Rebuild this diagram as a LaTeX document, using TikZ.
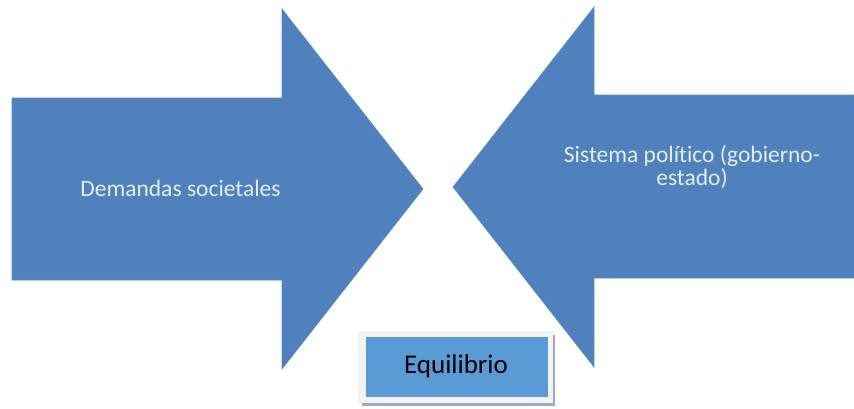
\documentclass[tikz,border=0pt]{standalone}
\usepackage{fontspec}
\setmainfont[Ligatures=NoCommon]{Carlito}
\definecolor{arrowblue}{HTML}{4F81BD}
\definecolor{arrowedge}{HTML}{5B8CC8}
\definecolor{boxblue}{HTML}{5B9BD5}
\definecolor{framegrey}{HTML}{F2F2F2}
\definecolor{shadowgrey}{HTML}{9AAAC0}
\definecolor{lighttext}{HTML}{E6ECF4}
\tikzset{
  bigarrow/.style={fill=arrowblue, draw=arrowedge, line width=0.6pt},
  arrowtext/.style={text=lighttext, font=\fontsize{23.5}{20.5}\selectfont, align=center, inner sep=0pt},
  eqtext/.style={text=black, font=\fontsize{27}{30}\selectfont, inner sep=0pt}
}
\begin{document}
\begin{tikzpicture}[x=1pt,y=-1pt]
\useasboundingbox (0,0) rectangle (854,408);
% left arrow
\draw[bigarrow] (12,98) -- (282,98) -- (282,9) -- (423,189) -- (282,369) -- (282,280) -- (12,280) -- cycle;
% right arrow
\draw[bigarrow] (856,95) -- (594,95) -- (594,7) -- (453,187) -- (594,367) -- (594,278) -- (856,278) -- cycle;
\node[arrowtext, anchor=base] (dem) at (180.5,196) {Demandas societales};
\node[arrowtext, anchor=base] (sis) at (692,185) {Sistema político (gobierno-\\estado)};
% Equilibrio box
\fill[shadowgrey] (362,335) rectangle (555,406);
\fill[framegrey] (358,331) rectangle (553,403);
\fill[boxblue] (366,337) rectangle (548,397);
\node[eqtext, anchor=base] (eq) at (456,373) {Equilibrio};
\end{tikzpicture}
\end{document}
